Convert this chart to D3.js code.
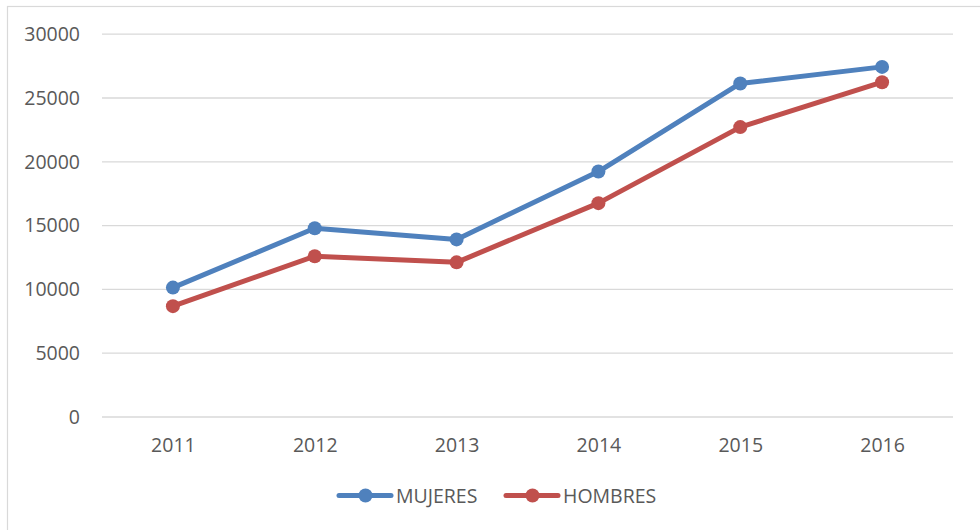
<!DOCTYPE html>
<html>
<head>
<meta charset="utf-8">
<script src="https://cdn.jsdelivr.net/npm/d3@7"></script>
<style>
  html, body { margin: 0; padding: 0; background: #fff; }
  svg { display: block; }
  text { font-family: "Open Sans", "DejaVu Sans", sans-serif; fill: #595959; }
</style>
</head>
<body>
<svg id="chart" width="980" height="530"></svg>
<script>
const years = ["2011", "2012", "2013", "2014", "2015", "2016"];
const mujeres = [10100, 14750, 13880, 19200, 26100, 27400];
const hombres = [8650, 12560, 12080, 16720, 22680, 26200];
const yTicks = [0, 5000, 10000, 15000, 20000, 25000, 30000];
const seriesNames = ["MUJERES", "HOMBRES"];
const seriesColors = ["#4F81BD", "#C0504D"];

const series = [
  { name: seriesNames[0], values: mujeres, color: seriesColors[0] },
  { name: seriesNames[1], values: hombres, color: seriesColors[1] }
];

const svg = d3.select("#chart");

// outer chart border
svg.append("rect")
  .attr("x", 7.5).attr("y", 6.5)
  .attr("width", 1000).attr("height", 1000)
  .attr("fill", "none").attr("stroke", "#D9D9D9").attr("stroke-width", 1.2);

const x = d3.scalePoint().domain(years).range([102, 953]).padding(0.5);
const y = d3.scaleLinear().domain([0, 30000]).range([416.5, 33.7]);

// gridlines
const grid = d3.axisLeft(y).tickValues(yTicks).tickSize(-(953 - 102)).tickFormat("");
svg.append("g")
  .attr("transform", "translate(102,0)")
  .call(grid)
  .call(g => g.select(".domain").remove())
  .call(g => g.selectAll("line").attr("stroke", "#D9D9D9").attr("stroke-width", 1.3));

// y labels
const yAxis = d3.axisLeft(y).tickValues(yTicks).tickSize(0).tickPadding(0).tickFormat(d3.format("d"));
svg.append("g")
  .attr("transform", "translate(80,0)")
  .call(yAxis)
  .call(g => g.select(".domain").remove())
  .call(g => g.selectAll("text")
     .attr("font-size", "19.5px")
     .attr("font-family", "'Open Sans', sans-serif")
     .attr("fill", "#595959")
     .attr("dy", "0.35em"));

// x labels
const xAxis = d3.axisBottom(x).tickSize(0).tickPadding(0);
svg.append("g")
  .attr("transform", "translate(0,438)")
  .call(xAxis)
  .call(g => g.select(".domain").remove())
  .call(g => g.selectAll("text")
     .attr("font-size", "19.5px")
     .attr("font-family", "'Open Sans', sans-serif")
     .attr("fill", "#595959")
     .attr("dy", "0.72em"));

// lines
const line = d3.line().x((d, i) => x(years[i])).y(d => y(d));
series.forEach(s => {
  svg.append("path")
    .datum(s.values)
    .attr("d", line)
    .attr("fill", "none")
    .attr("stroke", s.color)
    .attr("stroke-width", 5)
    .attr("stroke-linejoin", "round")
    .attr("stroke-linecap", "round");
  svg.selectAll(null)
    .data(s.values)
    .enter().append("circle")
    .attr("cx", (d, i) => x(years[i]))
    .attr("cy", d => y(d))
    .attr("r", 7)
    .attr("fill", s.color);
});

// legend
const legendX = [339, 506];
const legendY = 495.5;
series.forEach((s, i) => {
  const g = svg.append("g").attr("transform", `translate(${legendX[i]},${legendY})`);
  g.append("line")
    .attr("x1", 0).attr("x2", 52).attr("y1", 0).attr("y2", 0)
    .attr("stroke", s.color).attr("stroke-width", 5).attr("stroke-linecap", "round");
  g.append("circle").attr("cx", 26.5).attr("cy", 0).attr("r", 7).attr("fill", s.color);
  g.append("text")
    .attr("x", 57).attr("y", 0).attr("dy", "0.36em")
    .attr("font-size", "19.5px")
    .text(s.name);
});
</script>
</body>
</html>
